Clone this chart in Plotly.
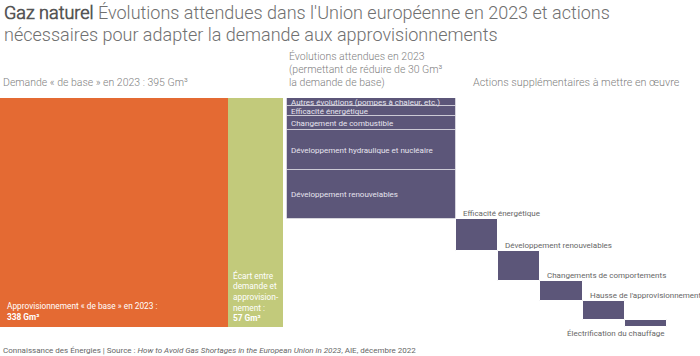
import plotly.graph_objects as go

# ---------------- data ----------------
demande_base = 395          # Gm3
appro_base = 338            # Gm3
ecart = 57                  # Gm3
reduction_attendue = 30     # Gm3

evol_labels = [
    "Autres évolutions (pompes à chaleur, etc.)",
    "Efficacité énergétique",
    "Changement de combustible",
    "Développement hydraulique et nucléaire",
    "Développement renouvelables",
]
evol_values = [2, 2.5, 3.5, 10, 12]

action_labels = [
    "Efficacité énergétique",
    "Développement renouvelables",
    "Changements de comportements",
    "Hausse de l'approvisionnement",
    "Électrification du chauffage",
]
action_values = [8, 7.5, 5, 4.7, 1.8]

# ---------------- style / layout ----------------
W, H = 700, 356
TOP_PX, BOT_PX = 98, 327
ORANGE = "#E46A33"
GREEN = "#C2CA7B"
PURPLE = "#5C5679"
GREY = "#7f7f7f"
FONT = "Roboto"
LIGHT = "Roboto Light, Roboto"

# column edges in pixel units of the x axis
col_orange = (0, 228)
col_green = (228, 283)
col_main = (287, 456)
step_w = 42.2


def py(px):
    return (BOT_PX - px) / (BOT_PX - TOP_PX)


fig = go.Figure()

# base supply + gap bars (full height)
for (x0, x1), col in [(col_orange, ORANGE), (col_green, GREEN)]:
    fig.add_trace(go.Bar(x=[(x0 + x1) / 2], y=[ecart], base=[0], width=[x1 - x0],
                         marker=dict(color=col, line=dict(width=0)),
                         hoverinfo="skip", showlegend=False))

# expected evolutions (stacked from top)
bases = []
top = ecart
for v in evol_values:
    bases.append(top - v)
    top -= v
fig.add_trace(go.Bar(x=[(col_main[0] + col_main[1]) / 2] * len(evol_values),
                     y=evol_values, base=bases, width=[col_main[1] - col_main[0]] * len(evol_values),
                     marker=dict(color=PURPLE, line=dict(color="rgba(255,255,255,0.5)", width=1)),
                     hoverinfo="skip", showlegend=False))

# additional actions (waterfall steps)
step_x, step_base = [], []
top = ecart - sum(evol_values)
for i, v in enumerate(action_values):
    step_x.append(col_main[1] + step_w * (i + 0.5))
    step_base.append(top - v)
    top -= v
fig.add_trace(go.Bar(x=step_x, y=action_values, base=step_base, width=[step_w] * len(action_values),
                     marker=dict(color=PURPLE, line=dict(color="white", width=1)),
                     hoverinfo="skip", showlegend=False))

ann = []


def add(text, x, ypx, size=10, color=GREY, xanchor="left", family=FONT):
    f = dict(family=family, size=size, color=color)
    ann.append(dict(text=text, x=x, y=py(ypx), xref="x", yref="paper", xanchor=xanchor,
                    yanchor="middle", showarrow=False, font=f, align="left"))


# title
add("<b><span style='color:#555555'>Gaz naturel</span></b> Évolutions attendues dans l'Union européenne en 2023 et actions",
    2, 13, size=18, color="#707070", family=LIGHT)
add("nécessaires pour adapter la demande aux approvisionnements", 2, 34,
    size=18, color="#707070", family=LIGHT)

# column headers
add("Demande « de base » en 2023 : %d Gm³" % demande_base, 1, 82, size=10.5, family=LIGHT)
add("Évolutions attendues en 2023", 287, 57, size=10.5, family=LIGHT)
add("(permettant de réduire de %d Gm³" % reduction_attendue, 287, 70, size=10.5, family=LIGHT)
add("la demande de base)", 287, 82, size=10.5, family=LIGHT)
add("Actions supplémentaires à mettre en œuvre", 471, 82, size=10.8, family=LIGHT)

# labels in orange / green bars
add("Approvisionnement « de base » en 2023 :", 5, 306, size=8.3, color="white")
add("<b>%d Gm³</b>" % appro_base, 5, 317, size=8.3, color="white")
for txt, ypx in [("Écart entre", 275), ("demande et", 286), ("approvision-", 297),
                 ("nement :", 308), ("<b>%d Gm³</b>" % ecart, 318)]:
    add(txt, 231, ypx, size=8.3, color="white")

# labels in expected evolutions
for lab, b, v in zip(evol_labels, bases, evol_values):
    ann.append(dict(text=lab, x=col_main[0] + 2, y=b + v / 2, xref="x", yref="y",
                    xanchor="left", yanchor="middle", showarrow=False,
                    font=dict(family=FONT, size=8, color="#e6e4ee")))

# labels of additional actions
for i, (lab, b, v) in enumerate(zip(action_labels, step_base, action_values)):
    x0 = col_main[1] + step_w * i
    if i < len(action_labels) - 1:
        ann.append(dict(text=lab, x=x0 + 5, y=b + v, xref="x", yref="y", xanchor="left",
                        yanchor="bottom", yshift=-1, showarrow=False,
                        font=dict(family=FONT, size=8, color="#666666")))
    else:
        ann.append(dict(text=lab, x=x0 + step_w, y=py(333), xref="x", yref="paper",
                        xanchor="right", yanchor="middle", showarrow=False,
                        font=dict(family=FONT, size=8, color="#666666")))

# footer
add("Connaissance des Énergies | Source : <i>How to Avoid Gas Shortages in the European Union in 2023</i>, AIE, décembre 2022",
    1, 350, size=8, color="#666666")

fig.update_layout(
    width=W, height=H,
    margin=dict(l=0, r=0, t=TOP_PX, b=H - BOT_PX, pad=0),
    paper_bgcolor="white", plot_bgcolor="white",
    barmode="overlay", bargap=0,
    xaxis=dict(range=[0, W], visible=False, fixedrange=True),
    yaxis=dict(range=[0, ecart], visible=False, fixedrange=True),
    annotations=ann,
    font=dict(family=FONT),
)

fig.write_html("out.html", config={"displayModeBar": False},
               post_script="document.body.style.margin='0';document.body.style.overflow='hidden';")
